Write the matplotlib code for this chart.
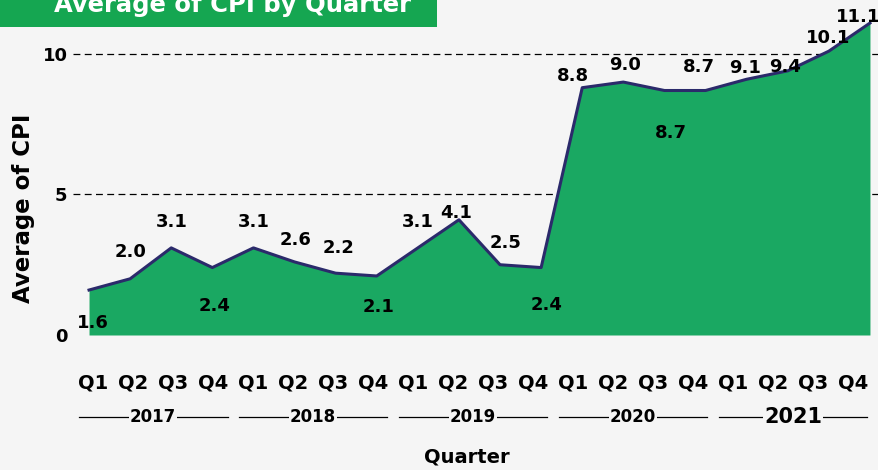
import matplotlib.pyplot as plt
import matplotlib.transforms as mtransforms
from matplotlib.patches import Rectangle
import numpy as np

plt.rcParams['font.family'] = ['DejaVu Sans']
plt.rcParams['font.weight'] = 'bold'

# data
quarters = ['Q1', 'Q2', 'Q3', 'Q4'] * 5
years = ['2017', '2018', '2019', '2020', '2021']
cpi = [1.6, 2.0, 3.1, 2.4, 3.1, 2.6, 2.2, 2.1, 3.1, 4.1,
       2.5, 2.4, 8.8, 9.0, 8.7, 8.7, 9.1, 9.4, 10.1, 11.1]

# label offsets (pixels: right, up) to mimic the original placement
lab_dx = [4, 0, 1, 2, 0, 1, 3, 2, 0, -3, 6, 5, -9, 2, 6, -7, -2, -3, -1, -12]
lab_dy = [-33, 27, 26, -38, 26, 22, 25, -31, 26, 7, 22, -37, 12, 17, -42, 24, 11, 4, 13, 6]

bg = '#f5f5f5'
green = '#1aa862'
navy = '#2b2a6b'

fig = plt.figure(figsize=(8.79, 4.70), dpi=100, facecolor=bg)

# title banner (the title text is cropped at the top, as in the original)
fig.patches.append(Rectangle((0, 1 - 27 / 470), 437 / 879, 27 / 470,
                             transform=fig.transFigure, facecolor='#15a651',
                             edgecolor='none', zorder=0))
fig.text(233 / 879, 1 - 12 / 470, 'Average of CPI by Quarter', color='white',
         fontsize=17.5, fontweight='bold', ha='center', va='baseline')

ax = fig.add_axes([73 / 879, (470 - 335) / 470, 806 / 879, 326 / 470])
ax.set_facecolor('none')

x = np.arange(len(cpi))
ax.fill_between(x, 0, cpi, color=green, linewidth=0, zorder=2)
ax.plot(x, cpi, color=navy, linewidth=2.2, zorder=3)

for i, v in enumerate(cpi):
    ax.annotate(f'{v:.1f}', (i, v), xytext=(lab_dx[i] * 0.72, lab_dy[i] * 0.72),
                textcoords='offset points', ha='center', va='center',
                fontsize=13, fontweight='bold', color='black', zorder=4)

for yv in [5, 10]:
    ax.axhline(yv, color='black', linewidth=0.9, linestyle=(0, (5.5, 3.5)), zorder=1)

ax.set_xlim(-0.39, 19.22)
ax.set_ylim(0, 11.6)
ax.set_yticks([0, 5, 10])
ax.set_yticklabels(['0', '5', '10'], fontsize=13, fontweight='bold')

tick_pos = np.arange(len(quarters)) * 0.973 + 0.1
ax.set_xticks(tick_pos)
ax.set_xticklabels(quarters, fontsize=14, fontweight='bold')
ax.tick_params(axis='x', length=0, pad=28)
ax.tick_params(axis='y', length=0, pad=4)
for s in ax.spines.values():
    s.set_visible(False)

# year group labels
trans = mtransforms.blended_transform_factory(ax.transData, ax.transAxes)
for g, yr in enumerate(years):
    p0 = tick_pos[4 * g] - 0.35
    p1 = tick_pos[4 * g + 3] + 0.35
    ax.plot([p0, p1], [-0.252, -0.252], transform=trans, color='black',
            linewidth=0.9, clip_on=False)
    ax.text((p0 + p1) / 2, -0.252, yr, transform=trans, ha='center', va='center',
            fontsize=15 if yr == '2021' else 12, fontweight='bold',
            bbox=dict(facecolor=bg, edgecolor='none', pad=0.5))

ax.set_xlabel('Quarter', fontsize=14, fontweight='bold')
ax.xaxis.set_label_coords(0.489, -0.345)
ax.set_ylabel('Average of CPI', fontsize=16.5, fontweight='bold')
ax.yaxis.set_label_coords(-0.047, 0.39)

fig.savefig('out.png', dpi=100, facecolor=bg)
